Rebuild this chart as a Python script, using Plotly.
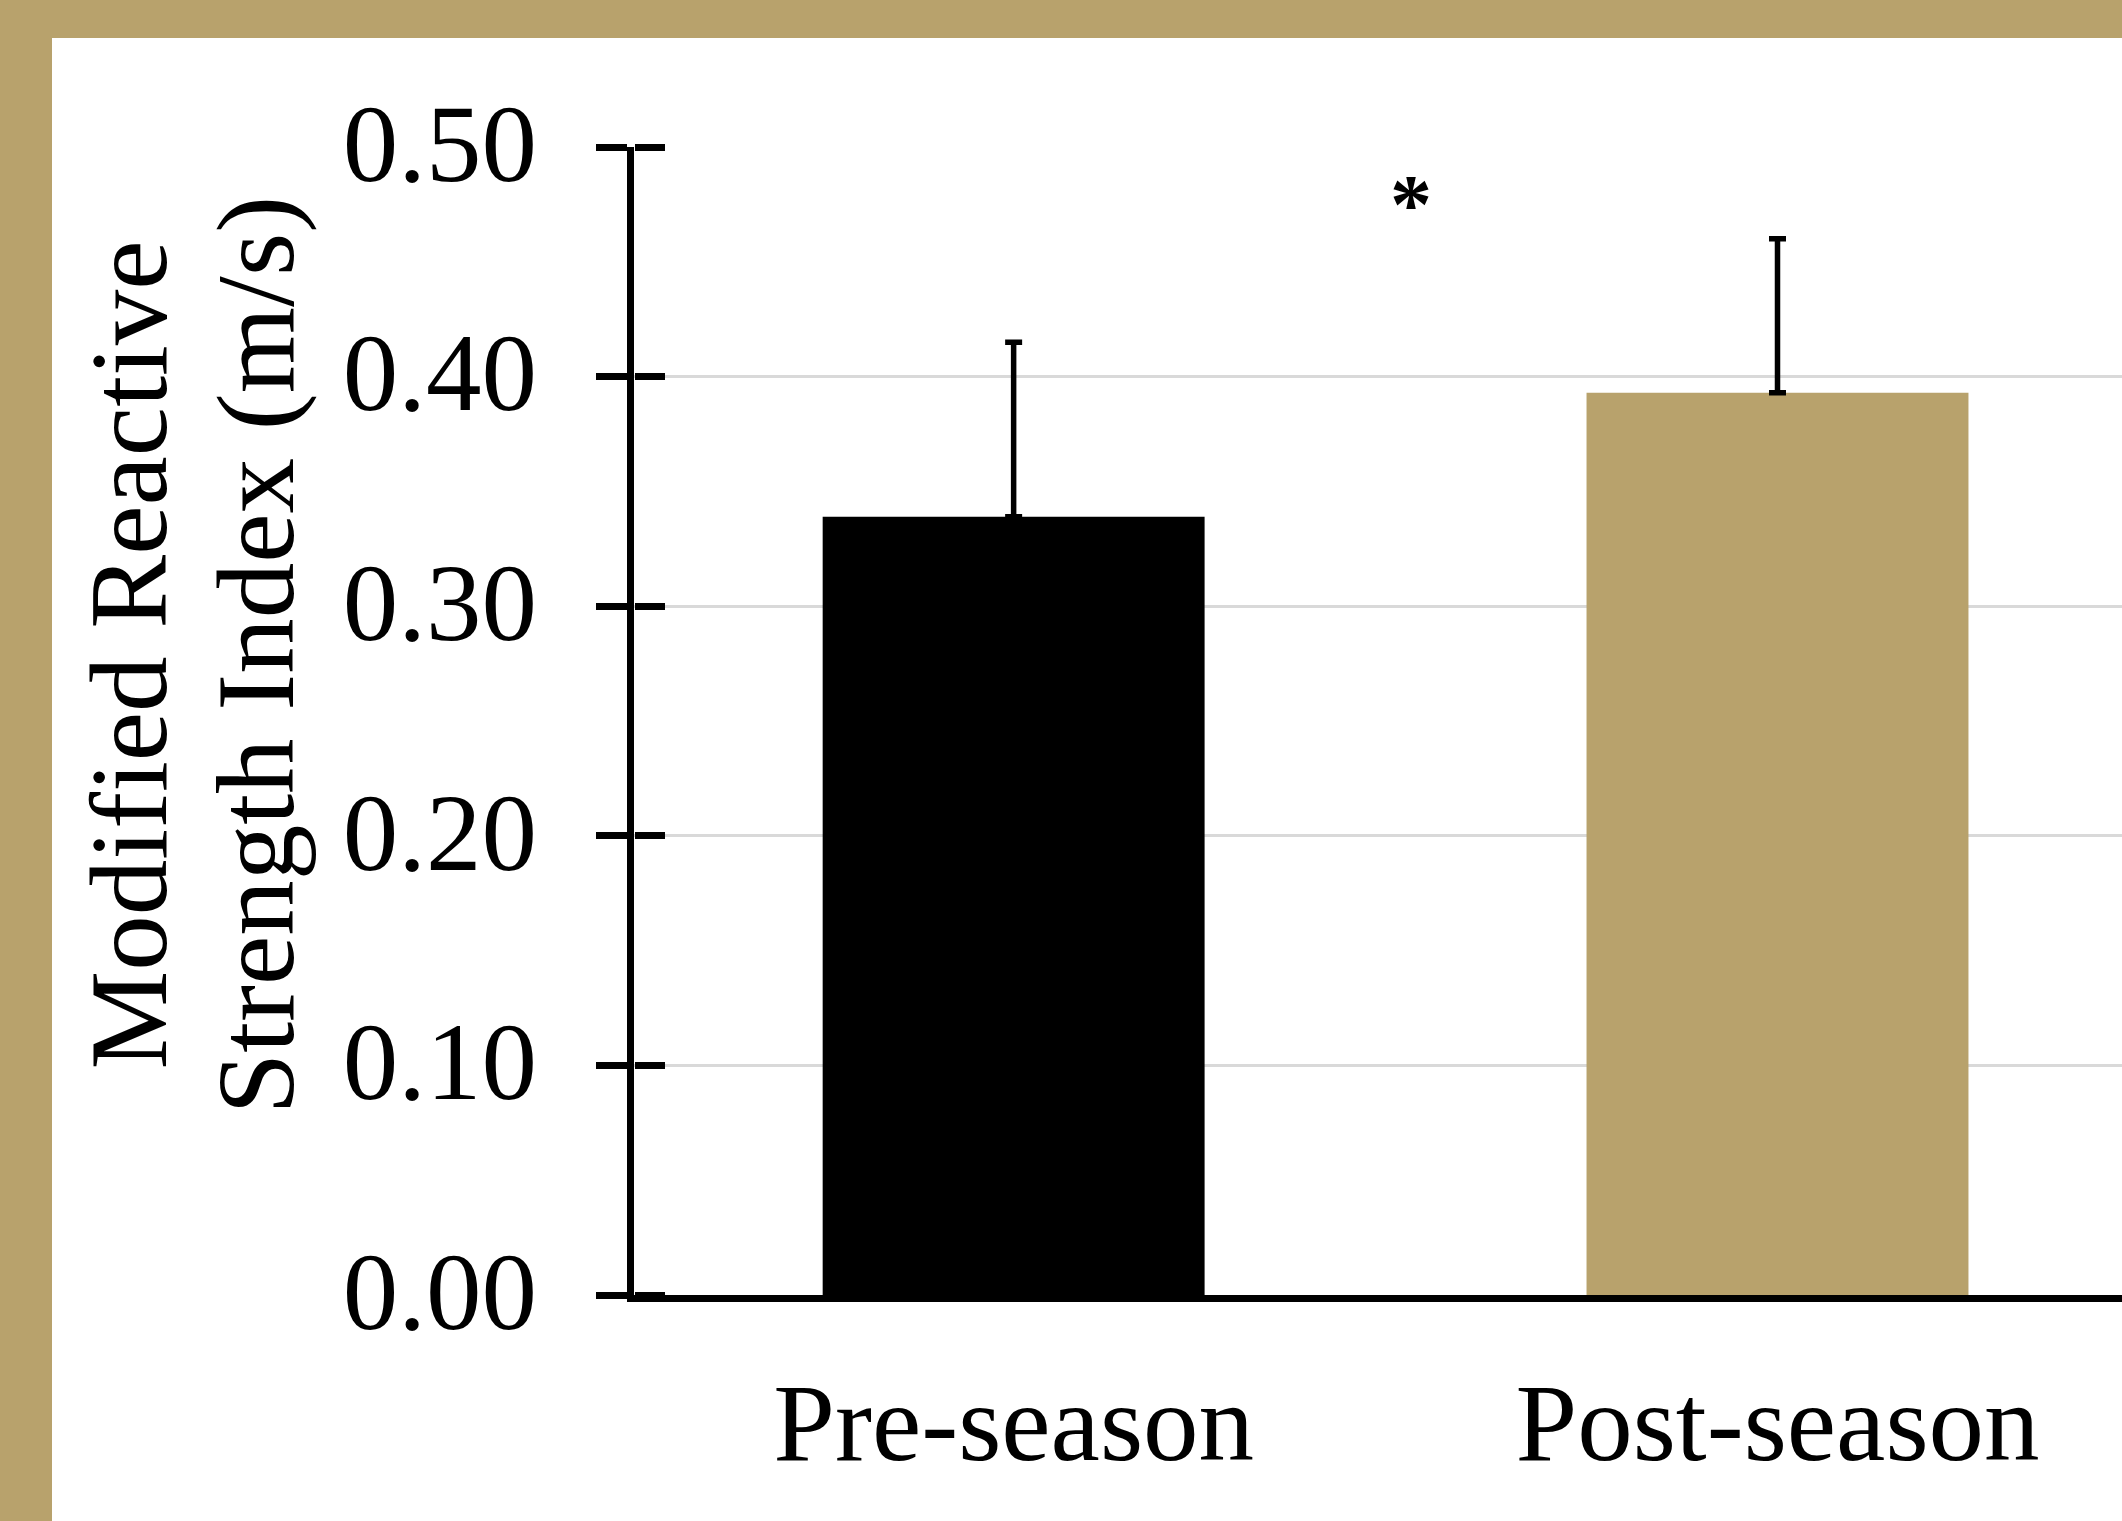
import plotly.graph_objects as go

# ---- data ----
categories = ["Pre-season", "Post-season"]
means = [0.339, 0.393]
sd_upper = [0.076, 0.067]
bar_colors = ["#000000", "#B8A26C"]
y_tickvals = [0.0, 0.1, 0.2, 0.3, 0.4, 0.5]
y_ticktext = ["0.00", "0.10", "0.20", "0.30", "0.40", "0.50"]
title_lines = ["Modified Reactive", "Strength Index (m/s)"]
sig_marker = "*"
sig_pos = (0.52, 0.475)

GOLD = "#B8A26C"
FONT = "Liberation Serif, Times New Roman, serif"
FS = 111

W, H = 2122, 1521
L, R, T, B = 634, 0, 147, 226

fig = go.Figure()
fig.add_trace(go.Bar(
    x=categories, y=means,
    marker=dict(color=bar_colors, line=dict(width=0)),
    error_y=dict(type="data", symmetric=False, array=sd_upper,
                 arrayminus=[0] * len(means), color="black",
                 thickness=5.5, width=8.5),
    showlegend=False,
))
# overlay axis to draw the inner half of the crossing y ticks
fig.add_trace(go.Scatter(x=categories, y=means, yaxis="y2", mode="none",
                         showlegend=False, hoverinfo="skip"))

common_y = dict(range=[0, 0.5], tickmode="array", tickvals=y_tickvals,
                tickwidth=6.5, tickcolor="black", zeroline=False)

fig.update_layout(
    width=W, height=H,
    margin=dict(l=L, r=R, t=T, b=B, pad=0),
    paper_bgcolor=GOLD,
    plot_bgcolor="white",
    bargap=0.5,
    font=dict(family=FONT, size=FS, color="black"),
    xaxis=dict(range=[-0.497, 1.451], showline=True, linewidth=6.5,
               linecolor="black", ticks="", showgrid=False,
               tickfont=dict(family=FONT, size=FS),
               ticklabelstandoff=25, fixedrange=True),
    yaxis=dict(**common_y, ticktext=y_ticktext, ticks="outside", ticklen=31,
               showline=True, linewidth=6.5, linecolor="black",
               showgrid=True, gridcolor="#D9D9D9", gridwidth=3,
               tickfont=dict(family=FONT, size=FS),
               ticklabelstandoff=37, ticklabelshift=-5),
    yaxis2=dict(**common_y, overlaying="y", side="right", anchor="free",
                position=0, ticks="outside", ticklen=30,
                showticklabels=False, showgrid=False, showline=False),
    shapes=[dict(type="rect", xref="paper", yref="paper", layer="below",
                 x0=-(L - 52) / (W - L - R), x1=1.2,
                 y0=-0.5, y1=1 + (T - 38) / (H - T - B),
                 fillcolor="white", line=dict(width=0))],
    annotations=[
        dict(text=title_lines[0], xref="paper", yref="paper", x=0, y=0.557,
             xshift=-(L - 129), textangle=-90, showarrow=False,
             xanchor="center", yanchor="middle",
             font=dict(family=FONT, size=FS)),
        dict(text=title_lines[1], xref="paper", yref="paper", x=0, y=0.557,
             xshift=-(L - 256), textangle=-90, showarrow=False,
             xanchor="center", yanchor="middle",
             font=dict(family=FONT, size=FS)),
        dict(text="<b>" + sig_marker + "</b>", xref="x", yref="y",
             x=sig_pos[0], y=sig_pos[1],
             showarrow=False, xanchor="center", yanchor="middle",
             font=dict(family=FONT, size=84)),
    ],
)

fig.write_html(
    "out.html",
    config={"displayModeBar": False},
    post_script="document.body.style.margin='0';"
                "document.body.style.overflow='hidden';",
)
